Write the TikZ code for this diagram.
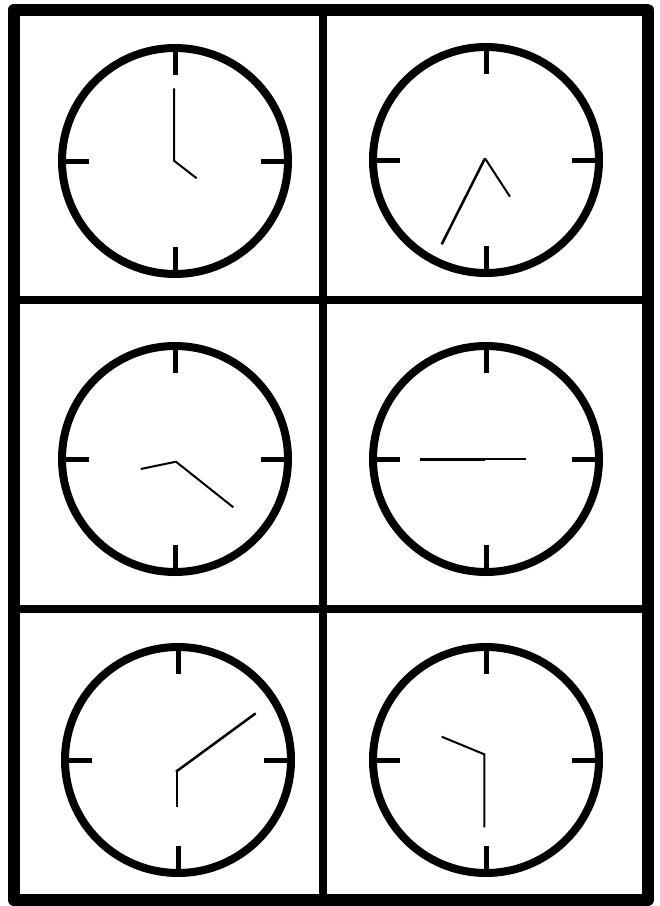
\documentclass[tikz,border=0pt]{standalone}
\usepackage{tikz}
\usetikzlibrary{calc}

\begin{document}
\begin{tikzpicture}[x=1pt, y=-1pt,
  frame/.style={draw, line width=12pt, line join=round},
  divider/.style={draw, line width=8pt},
  face/.style={draw, line width=8pt},
  tick/.style={draw, line width=5pt},
  hand/.style={draw, line width=2pt},
  longhand/.style={draw, line width=2.5pt}
]
\useasboundingbox (0,0) rectangle (660,906);

% frame and grid
\draw[frame] (14,9.5) rectangle (647.5,900);
\draw[divider] (323,9.5) -- (323,900);
\draw[divider] (14,300) -- (647.5,300);
\draw[divider] (14,609) -- (647.5,609);

% clock faces
\coordinate (c1) at (175,161);
\coordinate (c2) at (486,160);
\coordinate (c3) at (175,459);
\coordinate (c4) at (486,459);
\coordinate (c5) at (178,760);
\coordinate (c6) at (486,760);

\foreach \c in {c1,c2,c3,c4,c5,c6} {
  \draw[face] (\c) circle[radius=113];
  \foreach \a in {0,90,180,270}
    \draw[tick] ([shift={(\a:86)}]\c) -- ([shift={(\a:113)}]\c);
}

% hands
\draw[hand] (174,88.3) -- (174,160.7) -- (196.7,178.3);
\draw[longhand] (441.7,244.3) -- (485,158.3);
\draw[hand] (485,158.3) -- (510,196.7);
\draw[hand] (140.7,469) -- (176,461.7) -- (233.3,507.3);
\draw[longhand] (420,459.3) -- (485,459.3);
\draw[hand] (485,459.3) -- (525.7,459.3);
\draw[longhand] (176,771.7) -- (255.7,713.3);
\draw[hand] (177,771.7) -- (177,806.7);
\draw[hand] (441.7,736.7) -- (484.3,754.3) -- (484.3,827.3);
\end{tikzpicture}
\end{document}
